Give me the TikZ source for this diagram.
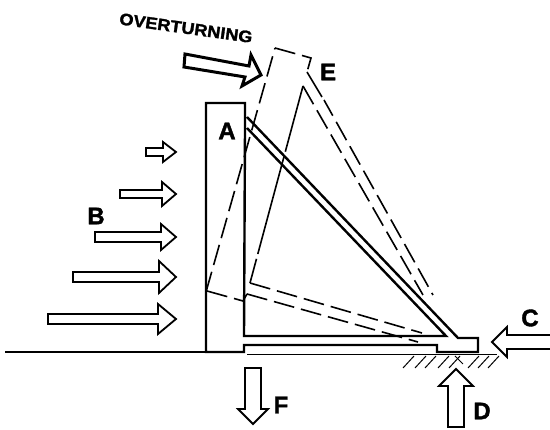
\documentclass[tikz,border=0pt]{standalone}
\usepackage{fontspec}
\setmainfont[Kerning=Off,BoldFeatures={FakeBold=1.6}]{Liberation Sans}
\tikzset{
  heavy/.style={line width=2.4pt,line join=miter},
  medium/.style={line width=1.6pt},
  thin line/.style={line width=1pt},
  solidline/.style={line width=1.6pt},
  dashline/.style={line width=1.6pt,dash pattern=on 21pt off 7pt},
  blockarrow/.style={line width=1.8pt,fill=white,line join=miter},
  letter/.style={font=\fontsize{24}{24}\selectfont\bfseries,inner sep=0pt},
}
\newcommand{\barrow}[7]{% tipx tipy angle length shafthalf headhalf headlen
  \begin{scope}[shift={(#1,#2)},rotate=#3]
    \draw[blockarrow] (0,0) -- (-#7,#6) -- (-#7,#5) -- (-#4,#5) -- (-#4,-#5) -- (-#7,-#5) -- (-#7,-#6) -- cycle;
  \end{scope}}
\begin{document}
\begin{tikzpicture}[x=1pt,y=-1pt]
\useasboundingbox (0,0) rectangle (550,430);
% ground
\draw[medium] (5,352) -- (205,352);
\draw[thin line] (247,355) -- (497,355);
% hatching
\foreach \x in {403,415,425,438,449,468,478,488}
  \draw[thin line] (\x,368) -- (\x+11,356);
\draw[thin line] (455,356) -- (463,364);
% tilted position
\draw[dashline] (206,292) -- (275,48);
\draw[dashline] (275,48) -- (311,58) -- (307,72);
\draw[solidline] (307,72) -- (322,97);
\draw[dashline,dash phase=3pt] (324,100) -- (433,295);
\draw[line width=1.6pt,dash pattern=on 68pt off 5pt on 101pt off 5pt] (303,86) -- (250,283);
\draw[dashline] (303,86) -- (423,295);
\draw[dashline] (207,291) -- (243,301);
\draw[solidline] (243,301) -- (247,294);
\draw[dashline] (247,294) -- (418,342);
\draw[dashline] (250,283) -- (422,333);
% footing and base slab
\draw[heavy] (245,128) -- (245,103) -- (206,103) -- (206,352) -- (244,352) -- (244,345) -- (437,345) -- (437,352) -- (478,352) -- (478,338) -- (458,338) -- (247,117);
\draw[heavy] (245,128) -- (244,336) -- (446,336) -- (247,128);
% load arrows
\barrow{176}{152}{0}{30}{4}{10}{13}
\barrow{176}{194}{0}{56}{4}{12}{14}
\barrow{176}{237}{0}{81}{5}{13}{15}
\barrow{176}{277}{0}{103}{5}{16}{17}
\barrow{176}{319}{0}{128}{5}{15}{18}
\barrow{492}{342}{180}{60}{7}{15}{15}
\barrow{456}{369}{90}{58}{8}{17}{17}
\barrow{253}{424}{-90}{56}{8}{15}{15}
% overturning arrow
\draw[line width=3pt,fill=white,line join=miter] (185,54) -- (249,66) -- (251,55) -- (261,75) -- (242,86) -- (245,77) -- (184,67) -- cycle;
% labels
\node[letter] (A) at (227,131) {A};
\node[letter] (E) at (328,72) {E};
\node[letter] (B) at (96,216) {B};
\node[letter] (C) at (530,318) {C};
\node[letter] (D) at (482,411) {D};
\node[letter] (F) at (281,405) {F};
\node[font=\fontsize{16.5}{17}\selectfont\bfseries,inner sep=0pt,rotate=-8,xscale=1.1] (O) at (186,28) {OVERTURNING};
\end{tikzpicture}
\end{document}
